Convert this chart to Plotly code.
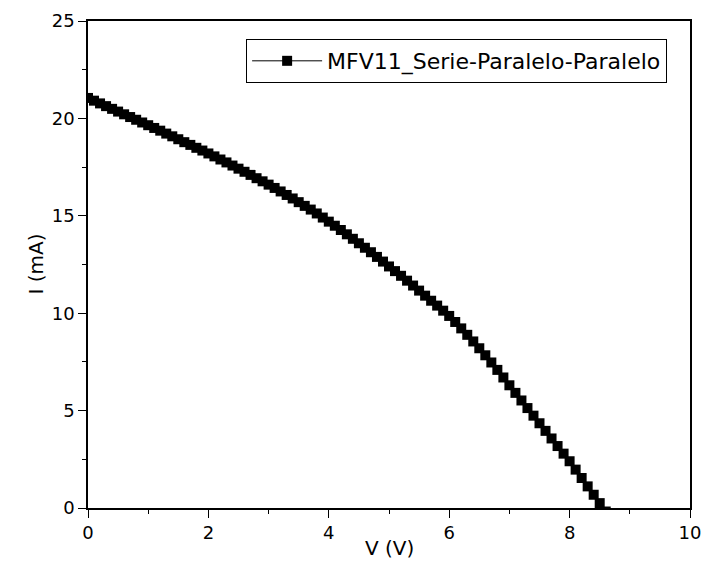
import plotly.graph_objects as go

V = [0.0, 0.1, 0.2, 0.3, 0.4, 0.5, 0.6, 0.7, 0.8, 0.9,
     1.0, 1.1, 1.2, 1.3, 1.4, 1.5, 1.6, 1.7, 1.8, 1.9,
     2.0, 2.1, 2.2, 2.3, 2.4, 2.5, 2.6, 2.7, 2.8, 2.9,
     3.0, 3.1, 3.2, 3.3, 3.4, 3.5, 3.6, 3.7, 3.8, 3.9,
     4.0, 4.1, 4.2, 4.3, 4.4, 4.5, 4.6, 4.7, 4.8, 4.9,
     5.0, 5.1, 5.2, 5.3, 5.4, 5.5, 5.6, 5.7, 5.8, 5.9,
     6.0, 6.1, 6.2, 6.3, 6.4, 6.5, 6.6, 6.7, 6.8, 6.9,
     7.0, 7.1, 7.2, 7.3, 7.4, 7.5, 7.6, 7.7, 7.8, 7.9,
     8.0, 8.1, 8.2, 8.3, 8.4, 8.5, 8.6]
I_mA = [21.05, 20.91, 20.77, 20.63, 20.49, 20.35, 20.21, 20.07, 19.93, 19.79,
        19.65, 19.51, 19.37, 19.22, 19.08, 18.93, 18.78, 18.64, 18.49, 18.35,
        18.20, 18.05, 17.89, 17.74, 17.58, 17.42, 17.26, 17.10, 16.93, 16.77,
        16.60, 16.43, 16.25, 16.07, 15.89, 15.70, 15.51, 15.32, 15.12, 14.91,
        14.70, 14.49, 14.27, 14.05, 13.82, 13.59, 13.36, 13.13, 12.89, 12.65,
        12.40, 12.16, 11.92, 11.67, 11.42, 11.16, 10.90, 10.64, 10.39, 10.13,
        9.86, 9.55, 9.22, 8.89, 8.55, 8.20, 7.84, 7.47, 7.09, 6.70,
        6.30, 5.91, 5.52, 5.13, 4.74, 4.35, 3.96, 3.57, 3.18, 2.79,
        2.40, 1.97, 1.54, 1.11, 0.68, 0.25, -0.18]
series_name = "MFV11_Serie-Paralelo-Paralelo"
x_ticks = [0, 2, 4, 6, 8, 10]
y_ticks = [0, 5, 10, 15, 20, 25]
x_title = "V (V)"
y_title = "I (mA)"

FONT = "DejaVu Sans, Arial"

fig = go.Figure()
fig.add_trace(go.Scatter(
    x=V, y=I_mA, mode="lines+markers", name=series_name,
    line=dict(color="black", width=1),
    marker=dict(symbol="square", size=10, color="black"),
))

axis_common = dict(
    showgrid=False, zeroline=False, showline=True, linecolor="black",
    linewidth=1.5, mirror=True, ticks="outside", ticklen=8, tickwidth=1,
    tickcolor="black", automargin=False,
    tickfont=dict(family=FONT, size=18, color="black"),
)
fig.update_xaxes(range=[0, 10], tickvals=x_ticks,
                 minor=dict(dtick=1, ticks="outside", ticklen=4, tickcolor="black", tickwidth=1),
                 **axis_common)
fig.update_yaxes(range=[0, 25], tickvals=y_ticks,
                 minor=dict(dtick=2.5, ticks="outside", ticklen=4, tickcolor="black", tickwidth=1),
                 **axis_common)

fig.add_annotation(text=x_title, xref="paper", yref="paper", x=0.5, y=-0.082,
                   xanchor="center", yanchor="middle", showarrow=False,
                   font=dict(family=FONT, size=20, color="black"))
fig.add_annotation(text=y_title, xref="paper", yref="paper", x=-0.088, y=0.5,
                   xanchor="center", yanchor="middle", showarrow=False, textangle=-90,
                   font=dict(family=FONT, size=20, color="black"))

fig.update_layout(
    width=703, height=584,
    margin=dict(l=88, r=13, t=21, b=76),
    plot_bgcolor="white", paper_bgcolor="white",
    showlegend=True,
    legend=dict(x=0.962, y=0.963, xanchor="right", yanchor="top",
                bordercolor="black", borderwidth=1, bgcolor="white",
                font=dict(family=FONT, size=22, color="black"),
                itemwidth=70),
)

# remove the default page margin so the figure fills the window exactly
fig.write_html("out.html",
               config={"displayModeBar": False},
               post_script="document.body.style.margin='0';document.body.style.overflow='hidden';")
